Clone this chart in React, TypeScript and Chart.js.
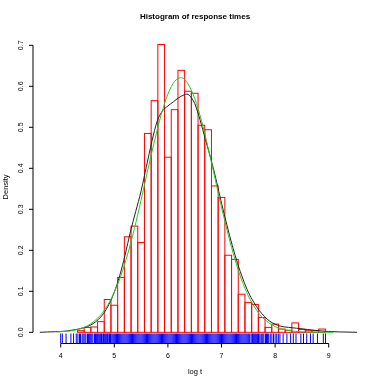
import React, { useEffect, useRef } from "react";
import { Chart, registerables } from "chart.js";

Chart.register(...registerables);

// ---------------- data ----------------
const TITLE = "Histogram of response times";
const X_LABEL = "log t";
const Y_LABEL = "Density";

const binCenters = [
  4.375, 4.5, 4.625, 4.75, 4.875, 5.0, 5.125, 5.25, 5.375, 5.5, 5.625, 5.75,
  5.875, 6.0, 6.125, 6.25, 6.375, 6.5, 6.625, 6.75, 6.875, 7.0, 7.125, 7.25,
  7.375, 7.5, 7.625, 7.75, 7.875, 8.0, 8.125, 8.25, 8.375, 8.5, 8.625, 8.75,
  8.875,
];
const binDensity = [
  0.004, 0.012, 0.013, 0.026, 0.08, 0.066, 0.134, 0.233, 0.259, 0.219, 0.485,
  0.565, 0.702, 0.427, 0.543, 0.639, 0.588, 0.583, 0.505, 0.494, 0.357, 0.329,
  0.188, 0.178, 0.093, 0.073, 0.068, 0.036, 0.012, 0.02, 0.008, 0.005, 0.023,
  0.007, 0.004, 0.004, 0.008,
];

// kernel density estimate (black curve)
const kdeX = [
  3.61, 3.75, 3.9, 4.0, 4.1, 4.25, 4.4, 4.5, 4.6, 4.7, 4.8, 4.9, 5.0, 5.1, 5.2,
  5.3, 5.4, 5.5, 5.6, 5.7, 5.8, 5.9, 6.0, 6.1, 6.2, 6.3, 6.35, 6.4, 6.5, 6.6,
  6.7, 6.8, 6.9, 7.0, 7.1, 7.2, 7.3, 7.4, 7.5, 7.6, 7.7, 7.8, 7.9, 8.0, 8.1,
  8.25, 8.4, 8.6, 8.8, 9.0, 9.2, 9.55,
];
const kdeY = [
  0.0, 0.0008, 0.0015, 0.002, 0.003, 0.006, 0.01, 0.014, 0.021, 0.031, 0.046,
  0.068, 0.098, 0.138, 0.188, 0.245, 0.295, 0.345, 0.405, 0.465, 0.515, 0.54,
  0.552, 0.562, 0.572, 0.579, 0.581, 0.578, 0.558, 0.518, 0.47, 0.424, 0.372,
  0.315, 0.262, 0.212, 0.168, 0.13, 0.098, 0.074, 0.054, 0.039, 0.027, 0.02,
  0.015, 0.012, 0.01, 0.007, 0.004, 0.002, 0.001, 0.0,
];

// fitted normal curve (green)
const normX = [
  3.93, 4.0, 4.25, 4.5, 4.625, 4.75, 4.875, 5.0, 5.125, 5.25, 5.375, 5.5,
  5.625, 5.75, 5.875, 6.0, 6.125, 6.25, 6.375, 6.5, 6.625, 6.75, 6.875, 7.0,
  7.125, 7.25, 7.375, 7.5, 7.625, 7.75, 8.0, 8.25, 8.5, 8.75, 9.09,
];
const normY = [
  0.001, 0.0015, 0.005, 0.016, 0.027, 0.043, 0.066, 0.098, 0.139, 0.191,
  0.253, 0.323, 0.396, 0.467, 0.531, 0.581, 0.612, 0.621, 0.606, 0.57, 0.517,
  0.45, 0.378, 0.305, 0.238, 0.178, 0.128, 0.089, 0.06, 0.038, 0.014, 0.0045,
  0.0012, 0.0003, 0.0,
];

// rug of observations
const rugValues = [
  4.0, 4.03, 4.1, 4.19, 4.24, 4.29, 4.32, 4.35, 4.37, 4.4, 4.42, 4.45, 4.47,
  4.5, 4.52, 4.54, 4.56, 4.58, 4.6, 4.63, 4.65, 4.67, 4.69, 4.7, 4.72, 4.74,
  4.76, 4.77, 4.79, 4.8, 4.82, 4.84, 4.85, 4.87, 4.88, 4.9, 4.91, 4.93, 4.94,
  4.96, 4.98, 5.0, 5.02, 5.04, 5.06, 5.08, 5.1, 5.12, 5.14, 5.16, 5.18, 5.2,
  5.22, 5.24, 5.26, 5.28, 5.3, 5.32, 5.34, 5.36, 5.38, 5.4, 5.42, 5.44, 5.46,
  5.48, 5.5, 5.52, 5.54, 5.56, 5.58, 5.6, 5.62, 5.64, 5.66, 5.68, 5.7, 5.72,
  5.74, 5.76, 5.78, 5.8, 5.82, 5.84, 5.86, 5.88, 5.9, 5.92, 5.94, 5.96, 5.98,
  6.0, 6.02, 6.04, 6.06, 6.08, 6.1, 6.12, 6.14, 6.16, 6.18, 6.2, 6.22, 6.24,
  6.26, 6.28, 6.3, 6.32, 6.34, 6.36, 6.38, 6.4, 6.42, 6.44, 6.46, 6.48, 6.5,
  6.52, 6.54, 6.56, 6.58, 6.6, 6.62, 6.64, 6.66, 6.68, 6.7, 6.72, 6.74, 6.76,
  6.78, 6.8, 6.82, 6.84, 6.86, 6.88, 6.9, 6.92, 6.94, 6.96, 6.98, 7.0, 7.02,
  7.04, 7.06, 7.08, 7.1, 7.12, 7.14, 7.16, 7.18, 7.2, 7.22, 7.24, 7.26, 7.28,
  7.3, 7.32, 7.34, 7.36, 7.38, 7.4, 7.42, 7.44, 7.46, 7.48, 7.5, 7.52, 7.55,
  7.57, 7.58, 7.6, 7.62, 7.63, 7.65, 7.67, 7.69, 7.7, 7.72, 7.75, 7.77, 7.79,
  7.82, 7.84, 7.86, 7.88, 7.91, 7.94, 7.97, 8.0, 8.03, 8.06, 8.09, 8.15, 8.22,
  8.29, 8.34, 8.39, 8.48, 8.53, 8.59, 8.66, 8.71, 8.79, 8.9, 8.94,
];

const xTickValues = [4, 5, 6, 7, 8, 9];
const xTickLabels = ["4", "5", "6", "7", "8", "9"];
const yTickValues = [0, 0.1, 0.2, 0.3, 0.4, 0.5, 0.6, 0.7];
const yTickLabels = ["0.0", "0.1", "0.2", "0.3", "0.4", "0.5", "0.6", "0.7"];

// ---------------- plugins ----------------
const FONT = "'Liberation Sans', Arial, Helvetica, sans-serif";

// outlines each histogram bar (R-style rect, stroke centred on the edges)
const histOutlinePlugin = {
  id: "histOutline",
  afterDatasetDraw(chart: any, args: any) {
    const meta = args.meta;
    if (meta.type !== "bar") return;
    const { ctx } = chart;
    ctx.save();
    ctx.strokeStyle = "#ff0000";
    ctx.lineWidth = 1;
    meta.data.forEach((el: any) => {
      const { x, y, base, width } = el.getProps(["x", "y", "base", "width"], true);
      ctx.strokeRect(x - width / 2, y, width, base - y);
    });
    ctx.restore();
  },
};

const rAxesPlugin = {
  id: "rAxes",
  afterDraw(chart: any) {
    const { ctx, chartArea } = chart;
    const xs = chart.scales.x;
    const ys = chart.scales.y;
    ctx.save();
    ctx.strokeStyle = "#000";
    ctx.fillStyle = "#000";
    ctx.lineWidth = 1;

    // x axis
    const axY = chartArea.bottom - 0.3;
    const xFirst = xs.getPixelForValue(xTickValues[0]);
    const xLast = xs.getPixelForValue(xTickValues[xTickValues.length - 1]);
    ctx.beginPath();
    ctx.moveTo(xFirst, axY);
    ctx.lineTo(xLast, axY);
    xTickValues.forEach((v) => {
      const px = xs.getPixelForValue(v);
      ctx.moveTo(px, axY);
      ctx.lineTo(px, axY + 4);
    });
    ctx.stroke();
    ctx.font = `7px ${FONT}`;
    ctx.textAlign = "center";
    ctx.textBaseline = "middle";
    xTickValues.forEach((v, i) => {
      ctx.fillText(xTickLabels[i], xs.getPixelForValue(v), axY + 12.5);
    });

    // y axis
    const axX = chartArea.left;
    const yFirst = ys.getPixelForValue(yTickValues[0]);
    const yLast = ys.getPixelForValue(yTickValues[yTickValues.length - 1]);
    ctx.beginPath();
    ctx.moveTo(axX, yFirst);
    ctx.lineTo(axX, yLast);
    yTickValues.forEach((v) => {
      const py = ys.getPixelForValue(v);
      ctx.moveTo(axX, py);
      ctx.lineTo(axX - 4, py);
    });
    ctx.stroke();
    yTickValues.forEach((v, i) => {
      const py = ys.getPixelForValue(v);
      ctx.save();
      ctx.translate(axX - 12.3, py);
      ctx.rotate(-Math.PI / 2);
      ctx.fillText(yTickLabels[i], 0, 0);
      ctx.restore();
    });

    // axis titles
    const cx = (chartArea.left + chartArea.right) / 2;
    const cy = (chartArea.top + chartArea.bottom) / 2 - 1.5;
    ctx.font = `7.5px ${FONT}`;
    ctx.fillText(X_LABEL, cx, 372);
    ctx.save();
    ctx.translate(6, cy);
    ctx.rotate(-Math.PI / 2);
    ctx.fillText(Y_LABEL, 0, 0);
    ctx.restore();

    // main title
    ctx.font = `bold 8px ${FONT}`;
    ctx.fillText(TITLE, cx, 16.5);
    ctx.restore();
  },
};

const RUG_Y = -0.0151;

export default function App() {
  const canvasRef = useRef<HTMLCanvasElement | null>(null);

  useEffect(() => {
    const canvas = canvasRef.current;
    if (!canvas) return;
    const chart = new Chart(canvas, {
      type: "bar",
      data: {
        datasets: [
          {
            type: "bar",
            label: "hist",
            data: binCenters.map((c, i) => ({ x: c, y: binDensity[i] })),
            backgroundColor: "rgba(0,0,0,0)",
            borderColor: "#ff0000",
            borderWidth: 0,
            inflateAmount: 0,
            barPercentage: 1,
            categoryPercentage: 1,
            order: 4,
          } as any,
          {
            type: "scatter",
            label: "rug",
            data: rugValues.map((v) => ({ x: v, y: RUG_Y })),
            pointStyle: "line",
            pointRotation: 90,
            pointRadius: 5,
            pointBorderWidth: 1,
            pointBorderColor: "#0000ff",
            borderColor: "#0000ff",
            backgroundColor: "#0000ff",
            order: 3,
          } as any,
          {
            type: "line",
            label: "kde",
            data: kdeX.map((v, i) => ({ x: v, y: kdeY[i] })),
            borderColor: "#222222",
            borderWidth: 1,
            pointRadius: 0,
            fill: false,
            cubicInterpolationMode: "monotone",
            order: 2,
          } as any,
          {
            type: "line",
            label: "normal",
            data: normX.map((v, i) => ({ x: v, y: normY[i] })),
            borderColor: "#22cc22",
            borderWidth: 1,
            pointRadius: 0,
            fill: false,
            cubicInterpolationMode: "monotone",
            order: 1,
          } as any,
        ],
      },
      options: {
        animation: false,
        responsive: false,
        devicePixelRatio: 1,
        events: [],
        layout: { padding: { left: 33, right: 17, top: 33, bottom: 41.2 } },
        plugins: {
          legend: { display: false },
          title: { display: false },
          tooltip: { enabled: false },
        },
        scales: {
          x: {
            type: "linear",
            display: false,
            offset: false,
            min: 3.483,
            max: 9.528,
            grid: { offset: false },
            ticks: { includeBounds: false, stepSize: 1 },
          },
          y: {
            type: "linear",
            display: false,
            min: -0.028,
            max: 0.73,
            ticks: { includeBounds: false, stepSize: 0.1 },
          },
        },
      } as any,
      plugins: [histOutlinePlugin, rAxesPlugin],
    });
    return () => chart.destroy();
  }, []);

  return (
    <div
      style={{
        position: "absolute",
        left: 0,
        top: 0,
        width: 374,
        height: 385,
        background: "#fff",
      }}
    >
      <canvas
        ref={canvasRef}
        width={374}
        height={385}
        style={{ display: "block", width: 374, height: 385 }}
      />
    </div>
  );
}
